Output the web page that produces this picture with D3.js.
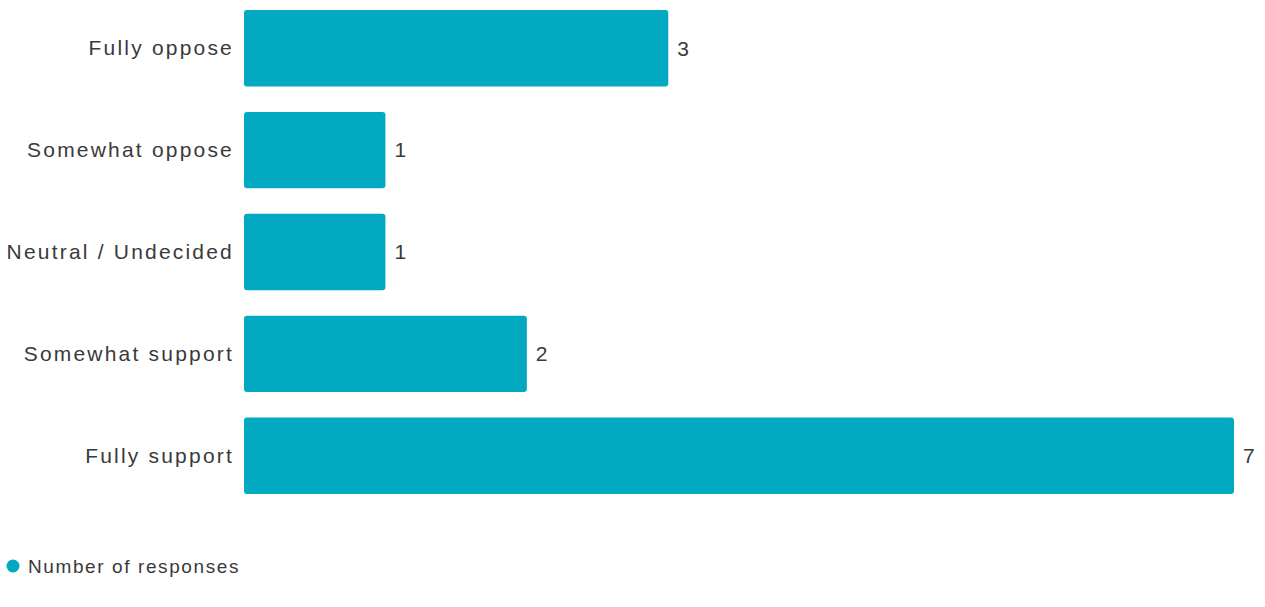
<!DOCTYPE html>
<html>
<head>
<meta charset="utf-8">
<script src="https://cdn.jsdelivr.net/npm/d3@7"></script>
<style>
  html, body { margin: 0; padding: 0; background: #ffffff; }
  svg { display: block; }
  text { font-family: "Liberation Sans", Arial, sans-serif; fill: #3a3a3a; }
</style>
</head>
<body>
<svg id="chart" width="1265" height="607"></svg>
<script>
// Survey answers and how many respondents chose each one
const categories = ["Fully oppose", "Somewhat oppose", "Neutral / Undecided", "Somewhat support", "Fully support"];
const responses = [3, 1, 1, 2, 7];
const seriesName = "Number of responses";

const barColor = "#02a9c1";

const svg = d3.select("#chart");

const data = categories.map((c, i) => ({ category: c, value: responses[i] }));

const y = d3.scaleBand()
  .domain(categories)
  .range([10, 494])
  .paddingInner(0.25)
  .paddingOuter(0);

const x = d3.scaleLinear()
  .domain([0, d3.max(responses)])
  .range([244, 1234]);

// Category labels on the left
const yAxis = d3.axisLeft(y).tickSize(0).tickPadding(10);
const gy = svg.append("g")
  .attr("transform", `translate(${x(0)},0)`)
  .call(yAxis);
gy.select(".domain").remove();
gy.selectAll("text")
  .style("font-family", "'Liberation Sans', Arial, sans-serif")
  .style("font-size", "21px")
  .style("letter-spacing", "2.2px")
  .attr("fill", "#3a3a3a");

// Bars
svg.append("g")
  .selectAll("rect")
  .data(data)
  .join("rect")
  .attr("x", x(0))
  .attr("y", d => y(d.category))
  .attr("width", d => x(d.value) - x(0))
  .attr("height", y.bandwidth())
  .attr("rx", 3)
  .attr("ry", 3)
  .attr("fill", barColor);

// Value labels at the end of each bar
svg.append("g")
  .selectAll("text")
  .data(data)
  .join("text")
  .attr("x", d => x(d.value) + 9)
  .attr("y", d => y(d.category) + y.bandwidth() / 2)
  .attr("dy", "0.35em")
  .style("font-size", "21px")
  .text(d => d.value);

// Legend
const legend = svg.append("g").attr("transform", "translate(13,566)");
legend.append("circle")
  .attr("r", 6.5)
  .attr("fill", barColor);
legend.append("text")
  .attr("x", 15)
  .attr("dy", "0.35em")
  .style("font-size", "19px")
  .style("letter-spacing", "1.6px")
  .text(seriesName);
</script>
</body>
</html>
